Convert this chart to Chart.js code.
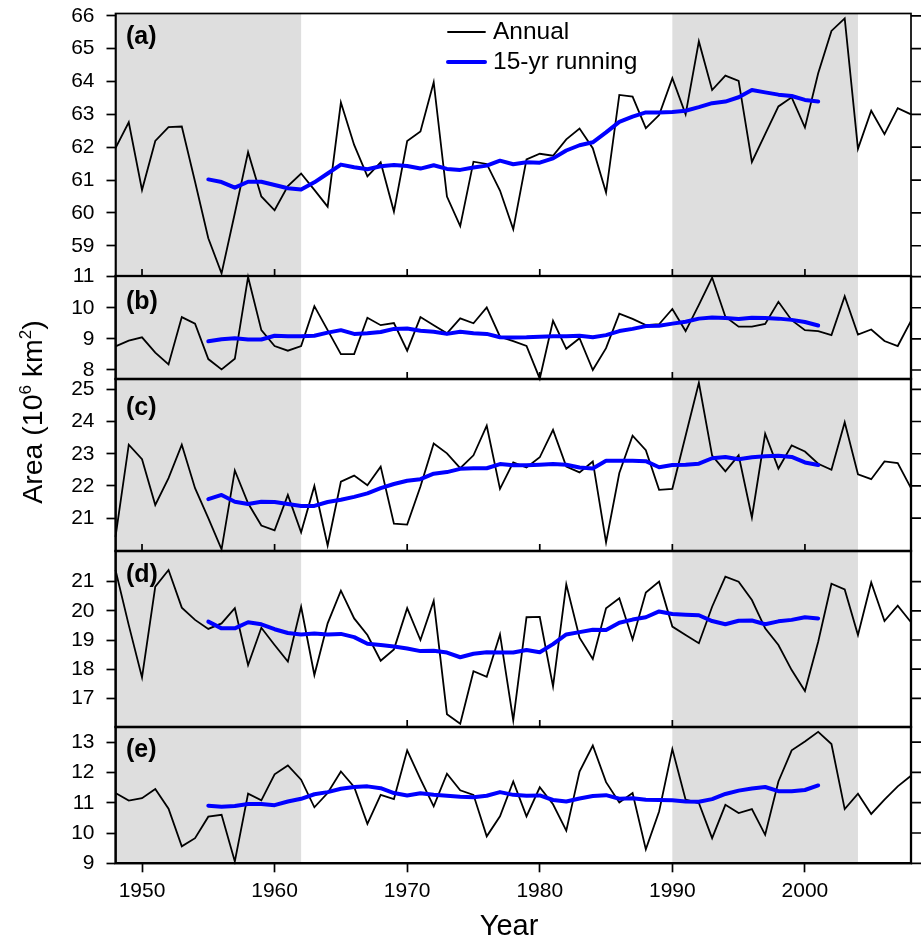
<!DOCTYPE html>
<html>
<head>
<meta charset="utf-8">
<title>Area 1948-2008</title>
<script src="https://cdn.jsdelivr.net/npm/chart.js@4"></script>
<style>
  html, body { margin: 0; padding: 0; background: #fff; }
  canvas { display: block; }
</style>
</head>
<body>
<canvas id="areaChart" width="921" height="940"></canvas>
<script>
// years on the x axis
const annualYears = [1948,1949,1950,1951,1952,1953,1954,1955,1956,1957,1958,1959,1960,1961,1962,1963,1964,1965,1966,1967,1968,1969,1970,1971,1972,1973,1974,1975,1976,1977,1978,1979,1980,1981,1982,1983,1984,1985,1986,1987,1988,1989,1990,1991,1992,1993,1994,1995,1996,1997,1998,1999,2000,2001,2002,2003,2004,2005,2006,2007,2008];
const runningYears = [1955,1956,1957,1958,1959,1960,1961,1962,1963,1964,1965,1966,1967,1968,1969,1970,1971,1972,1973,1974,1975,1976,1977,1978,1979,1980,1981,1982,1983,1984,1985,1986,1987,1988,1989,1990,1991,1992,1993,1994,1995,1996,1997,1998,1999,2000,2001];
const yearTicks = [1950,1960,1970,1980,1990,2000];

// values
const annualA = [61.97,62.76,60.70,62.19,62.61,62.63,60.95,59.23,58.16,59.99,61.85,60.50,60.08,60.82,61.20,60.70,60.19,63.36,62.07,61.11,61.54,60.04,62.19,62.48,63.98,60.50,59.60,61.56,61.49,60.68,59.50,61.63,61.80,61.74,62.24,62.57,61.97,60.62,63.59,63.54,62.58,62.98,64.10,63.00,65.22,63.74,64.18,64.02,61.55,62.40,63.24,63.52,62.60,64.25,65.54,65.92,61.95,63.11,62.40,63.19,63.00];
const runningA = [61.02,60.94,60.77,60.95,60.95,60.85,60.75,60.71,60.93,61.20,61.47,61.39,61.33,61.42,61.46,61.43,61.35,61.45,61.34,61.31,61.38,61.44,61.59,61.48,61.54,61.53,61.66,61.90,62.06,62.15,62.45,62.77,62.93,63.06,63.06,63.07,63.11,63.22,63.34,63.39,63.52,63.74,63.67,63.60,63.56,63.44,63.39];

const annualB = [8.76,8.94,9.05,8.56,8.18,9.70,9.49,8.35,8.02,8.36,10.99,9.28,8.77,8.62,8.77,10.05,9.28,8.51,8.51,9.68,9.44,9.51,8.62,9.70,9.44,9.18,9.66,9.50,10.01,9.07,8.93,8.77,7.72,9.58,8.68,9.02,8.00,8.70,9.81,9.64,9.44,9.47,9.96,9.25,10.09,10.97,9.71,9.39,9.39,9.48,10.19,9.60,9.28,9.25,9.12,10.37,9.14,9.30,8.93,8.77,9.58];
const runningB = [8.92,8.99,9.02,8.98,8.98,9.10,9.08,9.08,9.10,9.20,9.28,9.16,9.18,9.22,9.32,9.33,9.26,9.23,9.16,9.23,9.18,9.16,9.05,9.04,9.05,9.07,9.08,9.08,9.10,9.05,9.12,9.25,9.32,9.41,9.42,9.49,9.55,9.65,9.69,9.67,9.64,9.68,9.67,9.65,9.61,9.54,9.43];

const annualC = [20.42,23.28,22.83,21.41,22.24,23.28,21.93,21.00,20.03,22.48,21.46,20.77,20.62,21.72,20.56,22.00,20.15,22.13,22.32,22.02,22.60,20.83,20.80,21.98,23.32,23.01,22.55,22.95,23.87,21.91,22.73,22.57,22.89,23.74,22.60,22.42,22.76,20.25,22.40,23.56,23.11,21.88,21.91,23.56,25.20,22.94,22.45,22.95,21.02,23.62,22.54,23.26,23.07,22.69,22.50,23.98,22.36,22.21,22.76,22.71,21.93];
const runningC = [21.59,21.72,21.51,21.44,21.51,21.50,21.44,21.38,21.38,21.50,21.57,21.66,21.77,21.93,22.06,22.16,22.21,22.38,22.43,22.53,22.55,22.55,22.68,22.64,22.64,22.66,22.68,22.66,22.57,22.54,22.78,22.78,22.78,22.77,22.58,22.65,22.66,22.69,22.86,22.90,22.83,22.89,22.92,22.94,22.90,22.73,22.65];

const annualD = [21.40,19.51,17.72,20.83,21.40,20.11,19.69,19.38,19.57,20.09,18.14,19.42,18.83,18.26,20.14,17.80,19.57,20.69,19.74,19.17,18.29,18.68,20.09,19.00,20.34,16.46,16.13,17.93,17.74,19.19,16.25,19.78,19.79,17.41,20.91,19.08,18.35,20.09,20.43,19.02,20.63,21.00,19.46,19.17,18.89,20.14,21.17,21.00,20.37,19.40,18.83,17.97,17.25,18.94,20.93,20.73,19.17,20.97,19.65,20.18,19.61];
const runningD = [19.63,19.40,19.40,19.61,19.54,19.37,19.24,19.19,19.22,19.19,19.21,19.10,18.87,18.83,18.78,18.71,18.62,18.63,18.57,18.41,18.53,18.58,18.57,18.57,18.66,18.58,18.86,19.19,19.27,19.35,19.34,19.59,19.70,19.78,19.98,19.89,19.87,19.85,19.65,19.54,19.66,19.67,19.54,19.64,19.69,19.78,19.74];

const annualE = [11.32,11.07,11.15,11.45,10.80,9.56,9.83,10.54,10.60,9.06,11.30,11.08,11.94,12.23,11.76,10.85,11.32,12.03,11.52,10.30,11.26,11.12,12.73,11.78,10.88,11.96,11.41,11.26,9.89,10.55,11.70,10.55,11.51,10.95,10.08,12.03,12.89,11.68,11.01,11.32,9.46,10.71,12.77,11.10,10.99,9.83,10.93,10.66,10.79,9.94,11.70,12.73,13.02,13.34,12.94,10.79,11.30,10.63,11.10,11.54,11.89];
const runningE = [10.90,10.87,10.89,10.96,10.96,10.92,11.04,11.13,11.28,11.35,11.46,11.52,11.54,11.48,11.32,11.24,11.31,11.26,11.23,11.20,11.18,11.23,11.35,11.26,11.23,11.24,11.09,11.04,11.14,11.22,11.25,11.13,11.15,11.10,11.09,11.08,11.04,11.03,11.12,11.29,11.40,11.47,11.52,11.38,11.38,11.42,11.57];

const ticksA = [59,60,61,62,63,64,65,66];
const ticksB = [8,9,10,11];
const ticksC = [21,22,23,24,25];
const ticksD = [17,18,19,20,21];
const ticksE = [9,10,11,12,13];

const seriesNames = ['Annual', '15-yr running'];
const greyPeriods = [[1948, 1962], [1990, 2004]];

const FONT = '"Liberation Sans", Arial, sans-serif';

// panel list: scale id, letter, data, axis range, height share, year marks left on the lower edge
const panels = [
  { id: 'ya', tag: '(a)', annual: annualA, running: runningA, ticks: ticksA, min: 58.08, max: 66.07, weight: 262.5, inner: [1950,1960,1970,1980,1990,2000], tagY: 37 },
  { id: 'yb', tag: '(b)', annual: annualB, running: runningB, ticks: ticksB, min: 7.71, max: 11.02, weight: 103, inner: [1970,1980,1990], tagY: 302 },
  { id: 'yc', tag: '(c)', annual: annualC, running: runningC, ticks: ticksC, min: 19.98, max: 25.32, weight: 172, inner: [1950,1960,1970,1980,1990,2000], tagY: 408 },
  { id: 'yd', tag: '(d)', annual: annualD, running: runningD, ticks: ticksD, min: 16.02, max: 22.05, weight: 176, inner: [1970,1980,1990], tagY: 575 },
  { id: 'ye', tag: '(e)', annual: annualE, running: runningE, ticks: ticksE, min: 9, max: 13.5, weight: 136.3, inner: [], tagY: 750 }
];

function toPoints(years, values) {
  return values.map((v, i) => ({ x: years[i], y: v }));
}

// no extra room for half labels, the plot area is set by layout.padding alone
function dropLabelPadding(s) {
  s.paddingTop = 0;
  s.paddingBottom = 0;
  s.paddingLeft = 0;
  s.paddingRight = 0;
}

const datasets = [];
const scales = {
  x: {
    type: 'linear',
    min: 1948,
    max: 2008,
    afterBuildTicks: s => { s.ticks = yearTicks.map(v => ({ value: v })); },
    afterFit: s => { s.height = 76.7; dropLabelPadding(s); },
    grid: { drawOnChartArea: false, tickLength: 9, tickColor: '#000', tickWidth: 1.7 },
    border: { color: '#000', width: 1.7 },
    ticks: { color: '#000', font: { family: FONT, size: 21 }, padding: 6, maxRotation: 0, callback: v => String(v) }
  }
};

panels.forEach(p => {
  datasets.push({
    label: seriesNames[0], data: toPoints(annualYears, p.annual), yAxisID: p.id, xAxisID: 'x',
    borderColor: '#000', borderWidth: 1.8, pointRadius: 0, tension: 0, clip: false, order: 2
  });
  datasets.push({
    label: seriesNames[1], data: toPoints(runningYears, p.running), yAxisID: p.id, xAxisID: 'x',
    borderColor: '#0000ff', borderWidth: 4, pointRadius: 0, tension: 0, clip: false, order: 1,
    borderCapStyle: 'round', borderJoinStyle: 'round'
  });
});

// left stacks are placed bottom-up, so the lowest panel has to be defined first
panels.slice().reverse().forEach(p => {
  scales[p.id] = {
    type: 'linear',
    position: 'left',
    stack: 'panels',
    stackWeight: p.weight,
    min: p.min,
    max: p.max,
    afterBuildTicks: s => { s.ticks = p.ticks.map(v => ({ value: v })); },
    afterFit: s => { s.width = 115.5; dropLabelPadding(s); },
    grid: { drawOnChartArea: false, tickLength: 9, tickColor: '#000', tickWidth: 1.7 },
    border: { color: '#000', width: 1.7 },
    ticks: { color: '#000', font: { family: FONT, size: 21 }, padding: 12, autoSkip: false, callback: v => String(v) }
  };
});

// grey periods go under everything
const greyBands = {
  id: 'greyBands',
  beforeDraw(chart) {
    const { ctx, chartArea, scales: s } = chart;
    ctx.save();
    ctx.fillStyle = '#dedede';
    greyPeriods.forEach(([a, b]) => {
      const x0 = s.x.getPixelForValue(a);
      const x1 = s.x.getPixelForValue(b);
      ctx.fillRect(x0, chartArea.top, x1 - x0, chartArea.bottom - chartArea.top);
    });
    ctx.restore();
  }
};

// frames, right side ticks, inner year marks, labels and legend
const panelDecor = {
  id: 'panelDecor',
  afterDraw(chart) {
    const { ctx, chartArea, scales: s } = chart;
    ctx.save();
    ctx.strokeStyle = '#000';
    ctx.fillStyle = '#000';

    panels.forEach((p, i) => {
      const sc = s[p.id];
      ctx.lineWidth = (i === 0) ? 1.7 : 2.3;
      ctx.strokeRect(chartArea.left, sc.top, chartArea.right - chartArea.left, sc.bottom - sc.top);

      ctx.lineWidth = 1.7;
      ctx.beginPath();
      p.ticks.forEach(v => {
        const y = sc.getPixelForValue(v);
        ctx.moveTo(chartArea.right, y);
        ctx.lineTo(chartArea.right + 10, y);
      });
      p.inner.forEach(yr => {
        const x = s.x.getPixelForValue(yr);
        ctx.moveTo(x, sc.bottom);
        ctx.lineTo(x, sc.bottom - 7);
      });
      ctx.stroke();

      ctx.font = 'bold 25px ' + FONT;
      ctx.textAlign = 'left';
      ctx.textBaseline = 'middle';
      ctx.fillText(p.tag, 126, p.tagY);
    });

    // legend
    ctx.textBaseline = 'middle';
    ctx.font = '24.5px ' + FONT;
    seriesNames.forEach((name, i) => {
      const y = 32 + i * 30;
      ctx.strokeStyle = i === 0 ? '#000' : '#0000ff';
      ctx.lineWidth = i === 0 ? 1.8 : 4;
      ctx.lineCap = 'round';
      ctx.beginPath();
      ctx.moveTo(448, y);
      ctx.lineTo(485, y);
      ctx.stroke();
      ctx.fillText(name, 493, y);
    });

    // x title
    ctx.font = '29px ' + FONT;
    ctx.textAlign = 'center';
    ctx.fillText('Year', 509, 927);

    // y title, with the two raised digits
    ctx.translate(32, 412);
    ctx.rotate(-Math.PI / 2);
    const parts = [
      ['Area (10', 28.5, 0], ['6', 17, -11], [' km', 28.5, 0], ['2', 17, -11], [')', 28.5, 0]
    ];
    let total = 0;
    parts.forEach(([t, size]) => { ctx.font = size + 'px ' + FONT; total += ctx.measureText(t).width; });
    let px = -total / 2;
    ctx.textAlign = 'left';
    ctx.textBaseline = 'alphabetic';
    parts.forEach(([t, size, dy]) => {
      ctx.font = size + 'px ' + FONT;
      ctx.fillText(t, px, 10 + dy);
      px += ctx.measureText(t).width;
    });
    ctx.restore();
  }
};

new Chart(document.getElementById('areaChart').getContext('2d'), {
  type: 'line',
  data: { datasets },
  options: {
    responsive: false,
    animation: false,
    devicePixelRatio: 1,
    layout: { padding: { top: 13.5, right: 10, left: 0, bottom: 0 } },
    plugins: { legend: { display: false }, tooltip: { enabled: false } },
    scales
  },
  plugins: [greyBands, panelDecor]
});
</script>
</body>
</html>
